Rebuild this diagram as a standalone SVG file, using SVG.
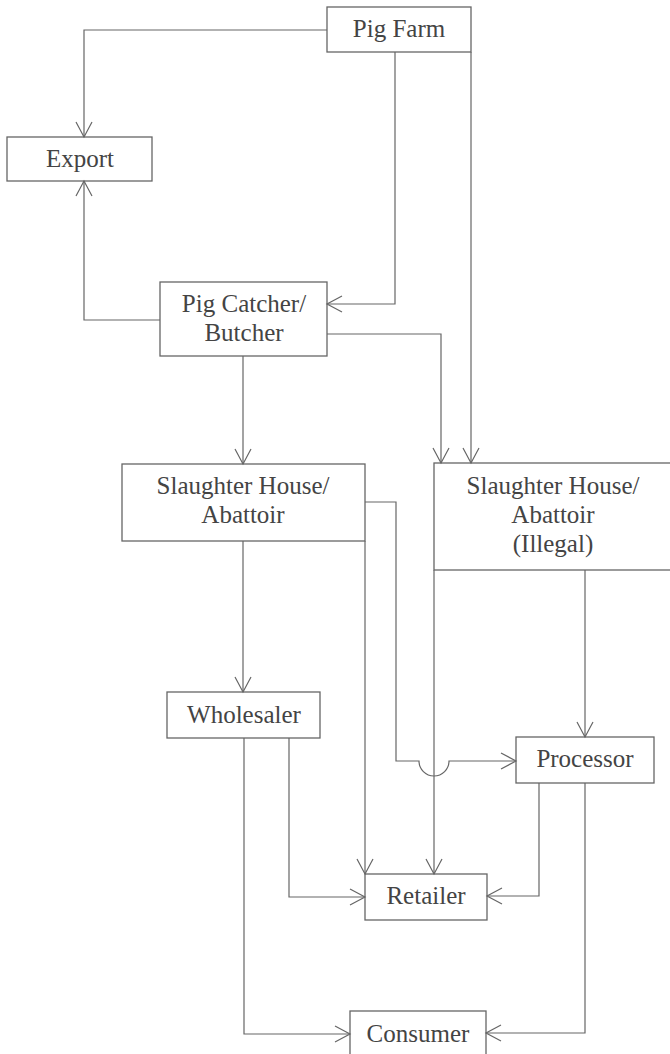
<svg xmlns="http://www.w3.org/2000/svg" width="670" height="1054" viewBox="0 0 670 1054">
<style>
.box{fill:none;stroke:#666;stroke-width:1.3}
.lbl{font-family:"Liberation Serif","Times New Roman",serif;font-size:25px;fill:#444;text-anchor:middle}
.c{fill:none;stroke:#666;stroke-width:1.2}
</style>
<defs>
<marker id="arr" viewBox="-17 -10 19 20" markerWidth="19" markerHeight="20" refX="0" refY="0" orient="auto" markerUnits="userSpaceOnUse">
<path d="M-15,-8 L0,0 L-15,8" fill="none" stroke="#666" stroke-width="1.2"/>
</marker>
</defs>
<rect width="670" height="1054" fill="#fff"/>
<g id="connectors">
<path class="c" d="M327,30 H84 V137" marker-end="url(#arr)"/>
<path class="c" d="M395,52 V304 H327" marker-end="url(#arr)"/>
<path class="c" d="M471,52 V463" marker-end="url(#arr)"/>
<path class="c" d="M160,320 H84 V181" marker-end="url(#arr)"/>
<path class="c" d="M327,334 H441 V463" marker-end="url(#arr)"/>
<path class="c" d="M243,356 V464" marker-end="url(#arr)"/>
<path class="c" d="M243,541 V692" marker-end="url(#arr)"/>
<path class="c" d="M365,541 V874" marker-end="url(#arr)"/>
<path class="c" d="M365,502 H396 V761 H419 A15,15 0 0 0 449,761 H516" marker-end="url(#arr)"/>
<path class="c" d="M585,570 V737" marker-end="url(#arr)"/>
<path class="c" d="M434,570 V874" marker-end="url(#arr)"/>
<path class="c" d="M289,738 V897 H365" marker-end="url(#arr)"/>
<path class="c" d="M244,738 V1034 H350" marker-end="url(#arr)"/>
<path class="c" d="M539,783 V896 H487" marker-end="url(#arr)"/>
<path class="c" d="M585,783 V1033 H486" marker-end="url(#arr)"/>
</g>
<g id="pig-farm"><rect class="box" x="327" y="7" width="144" height="45"/><text class="lbl" x="399" y="37">Pig Farm</text></g>
<g id="export"><rect class="box" x="7" y="137" width="145" height="44"/><text class="lbl" x="80" y="167">Export</text></g>
<g id="pig-catcher"><rect class="box" x="160" y="282" width="167" height="74"/><text class="lbl" x="244" y="312">Pig Catcher/</text><text class="lbl" x="244" y="341">Butcher</text></g>
<g id="slaughter-legal"><rect class="box" x="122" y="464" width="243" height="77"/><text class="lbl" x="243" y="494">Slaughter House/</text><text class="lbl" x="243" y="523">Abattoir</text></g>
<g id="slaughter-illegal"><rect class="box" x="434" y="463" width="240" height="107"/><text class="lbl" x="553" y="494">Slaughter House/</text><text class="lbl" x="553" y="523">Abattoir</text><text class="lbl" x="553" y="552">(Illegal)</text></g>
<g id="wholesaler"><rect class="box" x="167" y="692" width="153" height="46"/><text class="lbl" x="244" y="723">Wholesaler</text></g>
<g id="processor"><rect class="box" x="516" y="737" width="138" height="46"/><text class="lbl" x="585" y="767">Processor</text></g>
<g id="retailer"><rect class="box" x="365" y="874" width="122" height="46"/><text class="lbl" x="426" y="904">Retailer</text></g>
<g id="consumer"><rect class="box" x="350" y="1011" width="136" height="50"/><text class="lbl" x="418" y="1042">Consumer</text></g>
</svg>
